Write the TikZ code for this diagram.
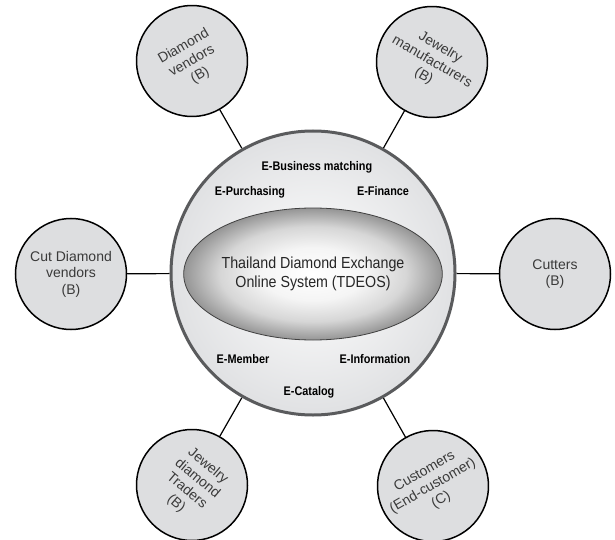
\documentclass[tikz,border=0pt]{standalone}
\usepackage{fontspec}
\setmainfont{Liberation Sans}
\newfontfamily\efont[FakeStretch=0.87]{Liberation Sans}
\newfontfamily\tdeosfont[FakeStretch=0.89]{Liberation Sans}
\usetikzlibrary{shapes.geometric,backgrounds}
\definecolor{partyfill}{HTML}{DDDEE0}
\definecolor{hubrim}{HTML}{5A5B5D}
\definecolor{hubfill}{HTML}{E0E1E3}
\definecolor{coreedge}{HTML}{959595}
\definecolor{textgray}{HTML}{3A3A3A}
\pgfdeclareradialshading{coreshade}{\pgfpoint{0bp}{0bp}}{color(0bp)=(white); color(10bp)=(white!96!black); color(18bp)=(white!84!black); color(25bp)=(coreedge); color(50bp)=(coreedge)}

\begin{document}
\begin{tikzpicture}[x=1pt, y=-1pt,
	party/.style={circle, draw=black, line width=1.5pt, fill=partyfill, minimum size=111pt, inner sep=0pt, align=center, text=textgray, font=\fontsize{14}{16.5}\selectfont},
	hub/.style={circle, draw=hubrim, line width=3pt, inner color=white, outer color=hubfill, minimum size=284pt, inner sep=0pt},
	core/.style={ellipse, draw=black!75, line width=0.8pt, shading=coreshade, minimum width=202pt, minimum height=132pt, inner sep=0pt, align=center, text=black!85, font=\tdeosfont\fontsize{16}{18.5}\selectfont},
	service/.style={anchor=base, inner sep=0pt, font=\efont\bfseries\fontsize{12.5}{14}\selectfont},
	link/.style={line width=1.2pt}]

	\useasboundingbox (0,0) rectangle (615,540);

	\node [hub] (hub) at (313,273) {};
	\node [core] (core) at (313,274) {Thailand Diamond Exchange\\Online System (TDEOS)};

	\node [service] (ebm) at (317,171) {E-Business matching};
	\node [service] (epu) at (250,195) {E-Purchasing};
	\node [service] (efi) at (383,195) {E-Finance};
	\node [service] (eme) at (243,363) {E-Member};
	\node [service] (ein) at (375,363) {E-Information};
	\node [service] (eca) at (309,395) {E-Catalog};

	\node [party, rotate=30] (dv) at (192,61) {Diamond\\vendors\\(B)};
	\node [party, rotate=-30] (jm) at (432,62) {Jewelry\\manufacturers\\(B)};
	\node [party] (cdv) at (71,274) {Cut Diamond\\vendors\\(B)};
	\node [party] (cut) at (555,274) {Cutters\\(B)};
	\node [party, rotate=-40] (jdt) at (192,485) {Jewelry\\diamond\\Traders\\(B)};
	\node [party, rotate=30] (cust) at (433,486) {Customers\\(End-customer)\\(C)};

	\begin{scope}[on background layer]
		\foreach \p in {dv,jm,cdv,cut,jdt,cust}
			\draw [link] (hub) -- (\p);
	\end{scope}

\end{tikzpicture}
\end{document}
